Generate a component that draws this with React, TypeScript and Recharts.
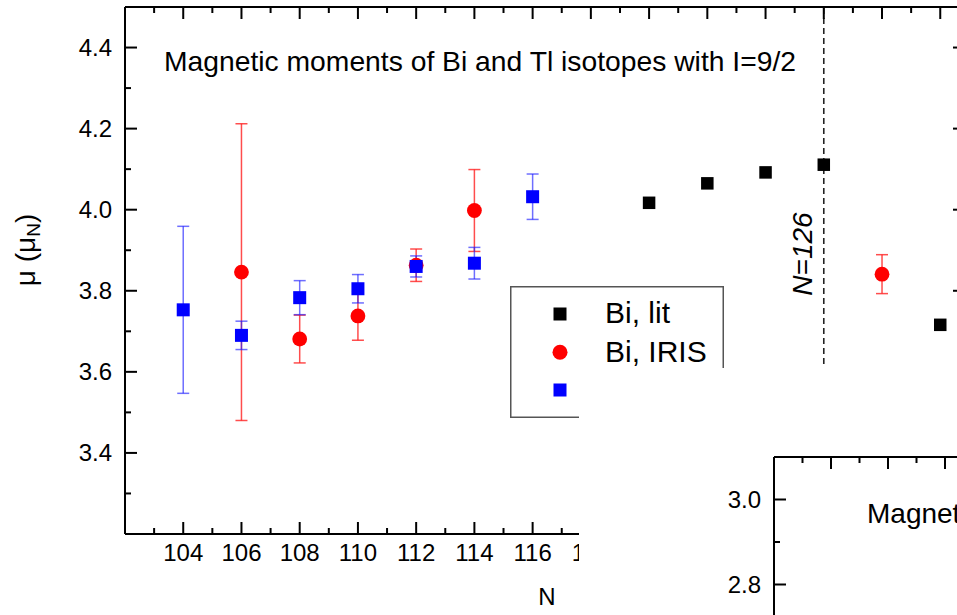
import React from 'react';
import { ComposedChart, Scatter, XAxis, YAxis, ErrorBar, ReferenceLine, Legend } from 'recharts';

const FONT = '"Liberation Sans", Arial, Helvetica, sans-serif';

// ---- data ----
const biLitN = [120, 122, 124, 126, 130];
const biLitMu = [4.017, 4.065, 4.092, 4.111, 3.716];

const irisN = [106, 108, 110, 112, 114, 128];
const irisMu = [3.846, 3.681, 3.738, 3.863, 3.998, 3.841];
const irisErr = [0.366, 0.059, 0.06, 0.04, 0.101, 0.048];

const blueN = [104, 106, 108, 110, 112, 114, 116];
const blueMu = [3.753, 3.69, 3.783, 3.805, 3.86, 3.868, 4.032];
const blueErr = [0.206, 0.035, 0.042, 0.035, 0.026, 0.039, 0.056];

const seriesNames = ['Bi, lit', 'Bi, IRIS'];

// ticks
const xMajorTicks = [104, 106, 108, 110, 112, 114, 116, 118, 120, 122, 124, 126, 128, 130];
const xMinorTicks = [103, 105, 107, 109, 111, 113, 115, 117, 119, 121, 123, 125, 127, 129];
const xTickLabels = [104, 106, 108, 110, 112, 114, 116, 118];
const yMajorTicks = [3.4, 3.6, 3.8, 4.0, 4.2, 4.4];
const yMinorTicks = [3.3, 3.5, 3.7, 3.9, 4.1, 4.3];
const insetXMajor = [106, 108, 110, 112, 114, 116];
const insetXMinor = [105, 107, 109, 111, 113, 115, 117];
const insetYMajor = [2.8, 3.0];
const insetYMinor = [2.9];

const titleText = 'Magnetic moments of Bi and Tl isotopes with I=9/2';
const insetTitleText = 'Magnetic';

const X_DOMAIN: [number, number] = [102, 130.85];
const Y_DOMAIN: [number, number] = [3.2, 4.5];
const INSET_X: [number, number] = [104, 118];
const INSET_Y: [number, number] = [2.7, 3.1];

const toRows = (ns: number[], mus: number[], errs?: number[]) =>
  ns.map((n, i) => ({ n, mu: mus[i], err: errs ? errs[i] : 0 }));

const biLitRows = toRows(biLitN, biLitMu);
const irisRows = toRows(irisN, irisMu, irisErr);
const blueRows = toRows(blueN, blueMu, blueErr);

// tick-mark rows (positions come from the axes' scales)
type Side = 'bottom' | 'top' | 'left' | 'right';
const tickRows = (xs: [number, number], ys: [number, number], xMaj: number[], xMin: number[], yMaj: number[], yMin: number[], sides: Side[]) => {
  const rows: any[] = [];
  const add = (side: Side, vals: number[], major: boolean) => {
    if (!sides.includes(side)) return;
    vals.forEach((v) => {
      if (side === 'bottom') rows.push({ n: v, mu: ys[0], side, major });
      if (side === 'top') rows.push({ n: v, mu: ys[1], side, major });
      if (side === 'left') rows.push({ n: xs[0], mu: v, side, major });
      if (side === 'right') rows.push({ n: xs[1], mu: v, side, major });
    });
  };
  (['bottom', 'top'] as Side[]).forEach((s) => { add(s, xMaj, true); add(s, xMin, false); });
  (['left', 'right'] as Side[]).forEach((s) => { add(s, yMaj, true); add(s, yMin, false); });
  return rows;
};

const mainTickRows = tickRows(X_DOMAIN, Y_DOMAIN, xMajorTicks, xMinorTicks, yMajorTicks, yMinorTicks, ['bottom', 'top', 'left', 'right']);
const insetTickRows = tickRows(INSET_X, INSET_Y, insetXMajor, insetXMinor, insetYMajor, insetYMinor, ['top', 'left']);

const TickMark = (p: any) => {
  const { cx, cy, payload } = p;
  const d = payload || p;
  const len = d.major ? 12 : 6;
  let x2 = cx, y2 = cy;
  if (d.side === 'bottom') y2 = cy - len;
  if (d.side === 'top') y2 = cy + len;
  if (d.side === 'left') x2 = cx + len;
  if (d.side === 'right') x2 = cx - len;
  return <line x1={cx} y1={cy} x2={x2} y2={y2} stroke="#000" strokeWidth={2} />;
};

function BottomLabel(props: any) {
  const { x, y, payload } = props;
  if (!xTickLabels.includes(payload.value)) return <g />;
  return (
    <text x={x} y={y + 27} textAnchor="middle" fontSize={24} fontFamily={FONT} fill="#000">
      {payload.value}
    </text>
  );
}

function LeftLabel(props: any) {
  const { x, y, payload } = props;
  return (
    <text x={x - 13} y={y + 8.5} textAnchor="end" fontSize={24} fontFamily={FONT} fill="#000">
      {Number(payload.value).toFixed(1)}
    </text>
  );
}

const squareShape = (fill: string, size: number) => (p: any) =>
  <rect x={p.cx - size / 2} y={p.cy - size / 2} width={size} height={size} fill={fill} />;
const circleShape = (fill: string, r: number) => (p: any) =>
  <circle cx={p.cx} cy={p.cy} r={r} fill={fill} />;

const TitleLabel = (props: any) => {
  const vb = props.viewBox || {};
  return (
    <text x={vb.x + 39} y={vb.y + 65} fontSize={28} fontFamily={FONT} fill="#000" textLength={632} lengthAdjust="spacingAndGlyphs">
      {titleText}
    </text>
  );
};

const YLabel = (props: any) => {
  const vb = props.viewBox || {};
  const x = vb.x - 30;
  const y = vb.y + 243;
  return (
    <text x={x} y={y} transform={`rotate(-90, ${x}, ${y})`} textAnchor="middle" fontSize={28} fontFamily={FONT} fill="#000">
      <tspan>μ (μ</tspan>
      <tspan fontSize={19} dy={5}>N</tspan>
      <tspan dy={-5}>)</tspan>
    </text>
  );
};

const XLabel = (props: any) => {
  const vb = props.viewBox || {};
  return (
    <text x={vb.x + vb.width / 2 + 2} y={vb.y + 71} textAnchor="middle" fontSize={24} fontFamily={FONT} fill="#000">
      N
    </text>
  );
};

const NLabel = (props: any) => {
  const vb = props.viewBox || {};
  const x = vb.x - 12;
  const y = vb.y + 247;
  return (
    <text x={x} y={y} transform={`rotate(-90, ${x}, ${y})`} textAnchor="middle" fontSize={28} fontStyle="italic" fontFamily={FONT} fill="#000">
      N=126
    </text>
  );
};

const InsetTitle = (props: any) => {
  const vb = props.viewBox || {};
  return (
    <text x={vb.x + 93} y={vb.y + 67} fontSize={28} fontFamily={FONT} fill="#000">
      {insetTitleText}
    </text>
  );
};

const LegendBox = () => (
  <svg width={214} height={132} style={{ display: 'block' }}>
    <rect x={0.75} y={0.75} width={212.5} height={130.5} fill="#fff" stroke="#555" strokeWidth={1.5} />
    <rect x={50 - 6.5} y={28 - 6.5} width={13} height={13} fill="#000" />
    <circle cx={50} cy={66.3} r={7.5} fill="#ff0000" />
    <rect x={50 - 6.5} y={104 - 6.5} width={13} height={13} fill="#0000ff" />
    <text x={95} y={37} fontSize={30} fontFamily={FONT} fill="#000">{seriesNames[0]}</text>
    <text x={95} y={76} fontSize={30} fontFamily={FONT} fill="#000">{seriesNames[1]}</text>
  </svg>
);

const AX = { stroke: '#000', strokeWidth: 2 };

export default function App() {
  return (
    <div style={{ position: 'absolute', left: 0, top: 0, width: 957, height: 615, overflow: 'hidden', background: '#fff' }}>
      <div style={{ position: 'absolute', left: 0, top: 0 }}>
        <ComposedChart width={1000} height={615} margin={{ top: 6, right: 34, bottom: 41, left: 65 }}>
          <XAxis type="number" dataKey="n" domain={X_DOMAIN} allowDataOverflow ticks={xMajorTicks} interval={0}
            tickSize={0} tickMargin={0} tickLine={false} tick={BottomLabel} axisLine={AX} height={40} label={XLabel} />
          <XAxis xAxisId="top" orientation="top" type="number" dataKey="n" domain={X_DOMAIN} allowDataOverflow ticks={xMajorTicks}
            interval={0} tickLine={false} tick={false} axisLine={AX} height={1} label={TitleLabel} />
          <YAxis type="number" dataKey="mu" domain={Y_DOMAIN} allowDataOverflow ticks={yMajorTicks} interval={0}
            tickSize={0} tickMargin={0} tickLine={false} tick={LeftLabel} axisLine={AX} width={60} label={YLabel} />
          <YAxis yAxisId="right" orientation="right" type="number" dataKey="mu" domain={Y_DOMAIN} allowDataOverflow ticks={yMajorTicks}
            interval={0} tickLine={false} tick={false} axisLine={AX} width={1} />
          <ReferenceLine x={126} stroke="#222" strokeWidth={1.6} strokeDasharray="6 4" label={NLabel} />
          <Scatter name="ticks" data={mainTickRows} dataKey="mu" shape={TickMark} legendType="none" isAnimationActive={false} />
          <Scatter name={seriesNames[0]} data={biLitRows} dataKey="mu" shape={squareShape('#000', 12.5)} isAnimationActive={false} />
          <Scatter name={seriesNames[1]} data={irisRows} dataKey="mu" shape={circleShape('#ff0000', 7.4)} isAnimationActive={false}>
            <ErrorBar dataKey="err" direction="y" width={6} stroke="#ff2020" strokeOpacity={0.8} strokeWidth={1.5} isAnimationActive={false} />
          </Scatter>
          <Scatter name="Tl" data={blueRows} dataKey="mu" shape={squareShape('#0000ff', 13)} isAnimationActive={false}>
            <ErrorBar dataKey="err" direction="y" width={6} stroke="#2020ff" strokeOpacity={0.65} strokeWidth={1.5} isAnimationActive={false} />
          </Scatter>
          <Legend
            layout="vertical"
            align="center"
            verticalAlign="middle"
            wrapperStyle={{ left: 510, top: 286, width: 214, height: 132, margin: 0, padding: 0 }}
            content={LegendBox}
          />
        </ComposedChart>
      </div>
      <div style={{ position: 'absolute', left: 579, top: 368, width: 378, height: 247, overflow: 'hidden', background: '#fff' }}>
        <ComposedChart width={594} height={259} margin={{ top: 88, right: 0, bottom: 0, left: 135 }}>
          <XAxis orientation="top" type="number" dataKey="n" domain={INSET_X} allowDataOverflow ticks={insetXMajor}
            interval={0} tickLine={false} tick={false} axisLine={AX} height={1} label={InsetTitle} />
          <YAxis type="number" dataKey="mu" domain={INSET_Y} allowDataOverflow ticks={insetYMajor}
            interval={0} tickSize={0} tickMargin={0} tickLine={false} tick={LeftLabel} axisLine={AX} width={60} />
          <Scatter name="ticks" data={insetTickRows} dataKey="mu" shape={TickMark} legendType="none" isAnimationActive={false} />
        </ComposedChart>
      </div>
    </div>
  );
}
